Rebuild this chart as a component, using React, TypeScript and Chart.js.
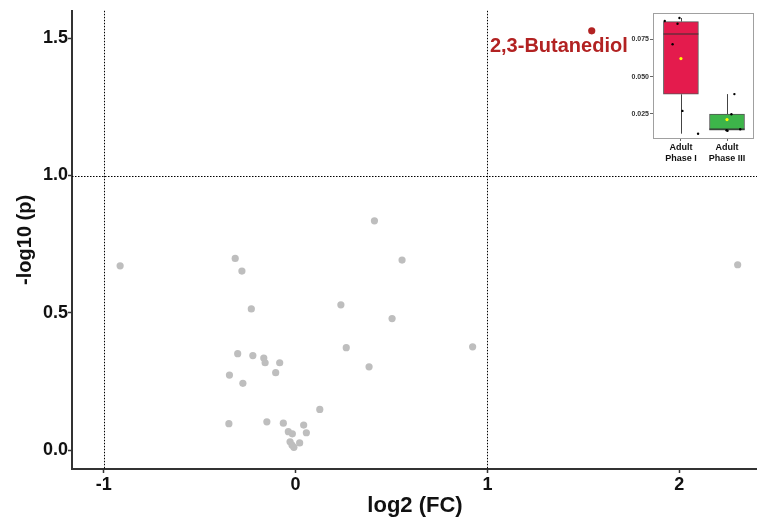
import React, { useEffect, useRef } from "react";
import { Chart, registerables } from "chart.js";
Chart.register(...registerables);

// ---------- main volcano data ----------
const nsX = [-0.915, -0.315, -0.280, -0.231, 0.555, 0.236, 0.503, 0.264, 0.383, -0.302, -0.223, -0.166, -0.159, -0.083, -0.104, -0.345, -0.275, 0.126, -0.348, -0.150, -0.064, 0.042, -0.038, -0.017, 0.056, -0.029, 0.021, -0.019, -0.009, 0.411, 0.923, 2.305];
const nsY = [0.671, 0.698, 0.652, 0.514, 0.692, 0.529, 0.479, 0.373, 0.303, 0.351, 0.344, 0.335, 0.318, 0.318, 0.282, 0.273, 0.243, 0.148, 0.096, 0.103, 0.098, 0.091, 0.067, 0.059, 0.063, 0.030, 0.026, 0.018, 0.010, 0.835, 0.376, 0.675];
const sigNames = ["2,3-Butanediol"];
const sigX = [1.544];
const sigY = [1.527];
const xTicks = [-1, 0, 1, 2];
const yTicks = [0, 0.5, 1, 1.5];
const thresholdsX = [-1, 1];
const thresholdY = [1];

// ---------- inset boxplot data ----------
const groups = [["Adult", "Phase I"], ["Adult", "Phase III"]];
const groupPos = [0, 1];
const q1 = [0.0382, 0.0140];
const q3 = [0.0870, 0.0248];
const medians = [0.0787, 0.0147];
const whiskerLow = [0.0117, 0.0137];
const whiskerHigh = [0.0894, 0.0383];
const means = [0.0622, 0.0212];
const ptsX = [-0.351, -0.032, -0.074, -0.181, 0.032, 0.372, 1.160, 1.096, 0.989, 1.011, 1.287];
const ptsY = [0.0874, 0.0894, 0.0856, 0.0718, 0.0270, 0.0117, 0.0383, 0.0248, 0.0140, 0.0137, 0.0147];
const insetTicks = [0.025, 0.05, 0.075];

const FONT = '"Liberation Sans", Arial, sans-serif';

function MainChart() {
  const ref = useRef<HTMLCanvasElement>(null);
  useEffect(() => {
    const thresholdPlugin = {
      id: "thresholds",
      beforeDatasetsDraw(chart: any) {
        const { ctx, chartArea: a, scales } = chart;
        ctx.save();
        ctx.strokeStyle = "#000";
        ctx.lineWidth = 1;
        ctx.setLineDash([1.5, 1.5]);
        for (const v of thresholdsX) {
          const px = Math.round(scales.x.getPixelForValue(v)) + 0.5;
          ctx.beginPath();
          ctx.moveTo(px, a.top);
          ctx.lineTo(px, a.bottom);
          ctx.stroke();
        }
        for (const v of thresholdY) {
          const py = Math.round(scales.y.getPixelForValue(v)) + 0.5;
          ctx.beginPath();
          ctx.moveTo(a.left, py);
          ctx.lineTo(a.right, py);
          ctx.stroke();
        }
        ctx.restore();
      },
    };
    const labelPlugin = {
      id: "sigLabel",
      afterDatasetsDraw(chart: any) {
        const { ctx } = chart;
        const meta = chart.getDatasetMeta(1);
        ctx.save();
        ctx.font = `bold 20px ${FONT}`;
        ctx.fillStyle = "#B22222";
        ctx.textAlign = "right";
        ctx.textBaseline = "middle";
        meta.data.forEach((el: any, i: number) => {
          ctx.fillText(sigNames[i], el.x + 36, el.y + 16);
        });
        ctx.restore();
      },
    };
    const chart = new Chart(ref.current!, {
      type: "scatter",
      data: {
        datasets: [
          {
            data: nsX.map((x, i) => ({ x, y: nsY[i] })),
            backgroundColor: "#BEBEBE",
            borderWidth: 0,
            pointRadius: 3.6,
          },
          {
            data: sigX.map((x, i) => ({ x, y: sigY[i] })),
            backgroundColor: "#B22222",
            borderWidth: 0,
            pointRadius: 3.6,
          },
        ],
      },
      options: {
        animation: false,
        responsive: false,
        layout: { padding: { top: 10, right: 0, left: 0, bottom: 0 } },
        plugins: { legend: { display: false }, tooltip: { enabled: false } },
        scales: {
          x: {
            type: "linear",
            min: -1.166,
            max: 2.411,
            afterBuildTicks: (s: any) => { s.ticks = xTicks.map((v) => ({ value: v })); },
            afterFit: (s: any) => { s.height = 51; },
            ticks: {
              color: "#111",
              font: { family: FONT, weight: "bold", size: 18 },
              padding: 1,
              callback: (v: any) => String(v),
            },
            grid: { drawOnChartArea: false, tickLength: 4, color: "#333", tickWidth: 1.5 },
            border: { color: "#333", width: 2 },
            title: {
              display: true,
              text: "log2 (FC)",
              color: "#111",
              font: { family: FONT, weight: "bold", size: 22 },
              padding: { top: 0, bottom: 1 },
            },
          },
          y: {
            type: "linear",
            min: -0.069,
            max: 1.6,
            afterBuildTicks: (s: any) => { s.ticks = yTicks.map((v) => ({ value: v })); },
            afterFit: (s: any) => { s.width = 72; },
            ticks: {
              color: "#111",
              font: { family: FONT, weight: "bold", size: 18 },
              padding: 0,
              callback: (v: any) => Number(v).toFixed(1),
            },
            grid: { drawOnChartArea: false, tickLength: 4, color: "#333", tickWidth: 1.5 },
            border: { color: "#333", width: 2 },
            title: {
              display: true,
              text: "-log10 (p)",
              color: "#111",
              font: { family: FONT, weight: "bold", size: 20 },
              padding: { top: 13, bottom: 0 },
            },
          },
        },
      },
      plugins: [thresholdPlugin, labelPlugin],
    } as any);
    return () => chart.destroy();
  }, []);
  return (
    <canvas
      ref={ref}
      width={762}
      height={520}
      style={{ position: "absolute", left: 0, top: 0, width: 762, height: 520 }}
    />
  );
}

function InsetChart() {
  const ref = useRef<HTMLCanvasElement>(null);
  useEffect(() => {
    const boxPlugin = {
      id: "boxParts",
      beforeDatasetsDraw(chart: any) {
        const { ctx, chartArea: a, scales } = chart;
        ctx.save();
        ctx.fillStyle = "#fff";
        ctx.fillRect(a.left, a.top, a.right - a.left, a.bottom - a.top);
        ctx.strokeStyle = "#444";
        ctx.lineWidth = 1;
        groupPos.forEach((g, i) => {
          const x = Math.round(scales.x.getPixelForValue(g)) + 0.5;
          ctx.beginPath();
          ctx.moveTo(x, scales.y.getPixelForValue(whiskerLow[i]));
          ctx.lineTo(x, scales.y.getPixelForValue(q1[i]));
          ctx.moveTo(x, scales.y.getPixelForValue(q3[i]));
          ctx.lineTo(x, scales.y.getPixelForValue(whiskerHigh[i]));
          ctx.stroke();
        });
        ctx.restore();
      },
      afterDatasetDraw(chart: any, args: any) {
        if (args.index !== 0) return;
        const { ctx, scales } = chart;
        const meta = chart.getDatasetMeta(0);
        ctx.save();
        ctx.strokeStyle = "#333";
        ctx.lineWidth = 1.2;
        meta.data.forEach((el: any, i: number) => {
          const y = scales.y.getPixelForValue(medians[i]);
          ctx.beginPath();
          ctx.moveTo(el.x - el.width / 2, y);
          ctx.lineTo(el.x + el.width / 2, y);
          ctx.stroke();
        });
        ctx.restore();
      },
      afterDraw(chart: any) {
        const { ctx, chartArea: a } = chart;
        ctx.save();
        ctx.strokeStyle = "#A0A0A0";
        ctx.lineWidth = 1;
        ctx.strokeRect(Math.round(a.left) + 0.5, Math.round(a.top) + 0.5, Math.round(a.right - a.left), Math.round(a.bottom - a.top));
        ctx.restore();
      },
    };
    const chart = new Chart(ref.current!, {
      type: "bar",
      data: {
        datasets: [
          {
            type: "bar",
            data: groupPos.map((g, i) => ({ x: g, y: [q1[i], q3[i]] })),
            backgroundColor: ["#E41B4D", "#3DB54A"],
            borderColor: "#555",
            borderWidth: 1,
            borderSkipped: false,
            barThickness: 35,
            grouped: false,
            order: 3,
          },
          {
            type: "scatter",
            data: ptsX.map((x, i) => ({ x, y: ptsY[i] })),
            backgroundColor: "#000",
            borderWidth: 0,
            pointRadius: 1.2,
            order: 2,
          },
          {
            type: "scatter",
            data: means.map((m, i) => ({ x: groupPos[i], y: m })),
            backgroundColor: "#FFFF00",
            borderWidth: 0,
            pointRadius: 1.6,
            order: 1,
          },
        ],
      },
      options: {
        animation: false,
        responsive: false,
        layout: { padding: { top: 13, right: 2, left: 0, bottom: 0 } },
        plugins: { legend: { display: false }, tooltip: { enabled: false } },
        scales: {
          x: {
            type: "linear",
            min: -0.606,
            max: 1.564,
            offset: false,
            afterBuildTicks: (s: any) => { s.ticks = groupPos.map((v) => ({ value: v })); },
            afterFit: (s: any) => { s.height = 32; },
            ticks: {
              color: "#111",
              font: { family: FONT, weight: "bold", size: 9 },
              padding: 1,
              callback: (v: any) => groups[Math.round(Number(v))] || "",
            },
            grid: { display: true, offset: false, drawOnChartArea: false, tickLength: 3, color: "#666" },
            border: { display: false },
          },
          y: {
            type: "linear",
            min: 0.0088,
            max: 0.0928,
            afterBuildTicks: (s: any) => { s.ticks = insetTicks.map((v) => ({ value: v })); },
            afterFit: (s: any) => { s.width = 53; },
            ticks: {
              color: "#333",
              font: { family: FONT, weight: "bold", size: 7 },
              padding: 1,
              callback: (v: any) => Number(v).toFixed(3),
            },
            grid: { drawOnChartArea: false, tickLength: 3, color: "#666" },
            border: { display: false },
          },
        },
      },
      plugins: [boxPlugin],
    } as any);
    return () => chart.destroy();
  }, []);
  return (
    <canvas
      ref={ref}
      width={157}
      height={170}
      style={{ position: "absolute", left: 600, top: 0, width: 157, height: 170 }}
    />
  );
}

export default function App() {
  return (
    <div style={{ position: "fixed", left: 0, top: 0, width: 757, height: 520, background: "#fff", overflow: "hidden" }}>
      <MainChart />
      <InsetChart />
    </div>
  );
}
